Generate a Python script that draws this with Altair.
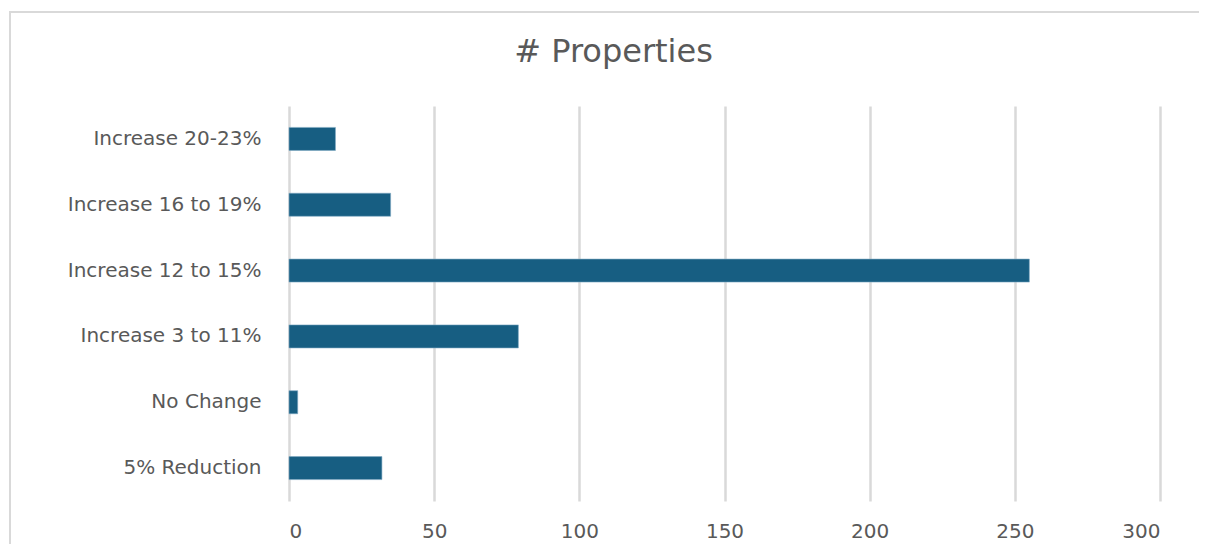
import altair as alt
import pandas as pd

categories = ["Increase 20-23%", "Increase 16 to 19%", "Increase 12 to 15%",
              "Increase 3 to 11%", "No Change", "5% Reduction"]
counts = [16, 35, 255, 79, 3, 32]
x_ticks = [0, 50, 100, 150, 200, 250, 300]

df = pd.DataFrame({"category": categories, "count": counts})

FONT = "DejaVu Sans"
TEXT = "#595959"

bars = alt.Chart(df).mark_bar(color="#175E82", stroke="#7FA9C2", strokeWidth=0.6).encode(
    y=alt.Y("category:N", sort=categories, title=None,
            scale=alt.Scale(paddingInner=0.65, paddingOuter=0.325),
            axis=alt.Axis(domain=False, ticks=False, labelFont=FONT, labelFontSize=20,
                          labelColor=TEXT, labelPadding=28, labelLimit=400, grid=False)),
    x=alt.X("count:Q", title=None,
            scale=alt.Scale(domain=[0, 300], nice=False),
            axis=alt.Axis(values=x_ticks, domain=False, ticks=False, labelFont=FONT,
                          labelFontSize=20, labelColor=TEXT, labelPadding=20,
                          grid=True, gridColor="#d9d9d9", gridWidth=2.5)),
)

frame = alt.Chart(df).mark_rect(fill=None, stroke="#d9d9d9", strokeWidth=2).encode(
    x=alt.value(-279), x2=alt.value(960), y=alt.value(-94), y2=alt.value(480)
)

chart = alt.layer(frame, bars).properties(
    width=871, height=395,
    title=alt.Title("# Properties", font=FONT, fontSize=32, fontWeight="normal",
                    color=TEXT, anchor="middle", dx=-111, offset=-58),
    autosize=alt.AutoSizeParams(type="none"),
    padding={"left": 281, "top": 98, "right": 39, "bottom": 43},
).configure(background="white").configure_view(strokeWidth=0)

chart.save("out.html", embed_options={"renderer": "svg", "actions": False})
